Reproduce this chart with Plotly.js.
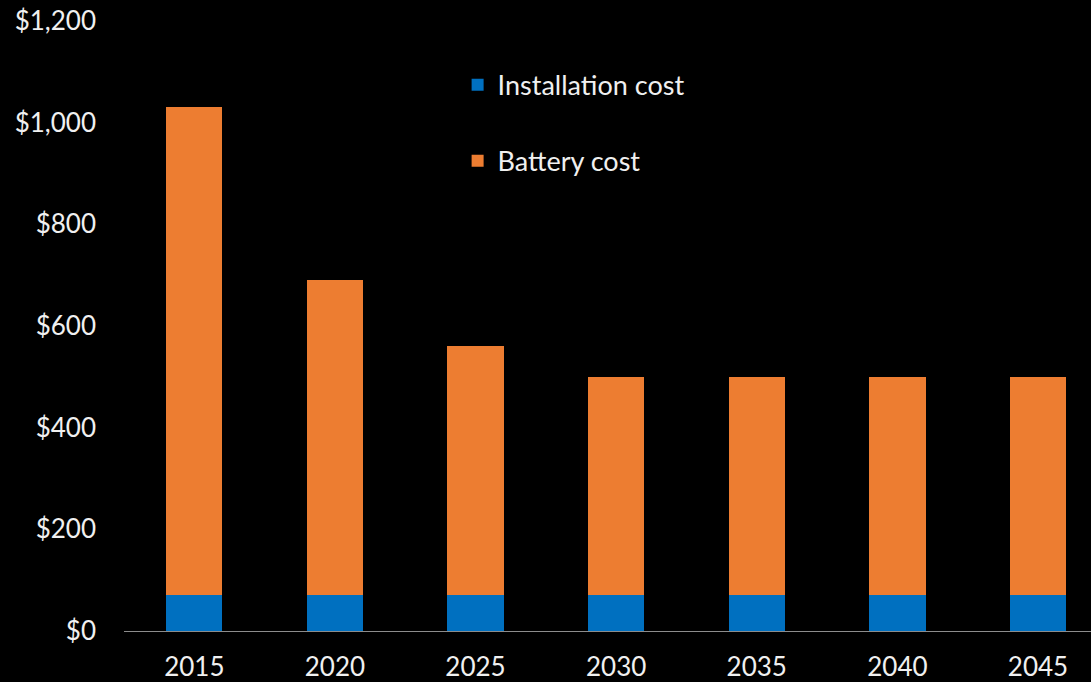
<!DOCTYPE html>
<html>
<head>
<meta charset="utf-8">
<script src="https://cdn.plot.ly/plotly-3.0.1.min.js"></script>
<style>html,body{margin:0;padding:0;background:#000;}#chart{width:1091px;height:682px;}</style>
</head>
<body>
<div id="chart"></div>
<script>
const years = ['2015','2020','2025','2030','2035','2040','2045'];
const installationCost = [70, 70, 70, 70, 70, 70, 70];
const batteryCost = [960, 620, 490, 430, 430, 430, 430];
const yTickValues = [0, 200, 400, 600, 800, 1000, 1200];
const yTickLabels = ['$0','$200','$400','$600','$800','$1,000','$1,200'];

const fontFamily = 'Lato, "Open Sans", sans-serif';
const data = [
  {type:'bar', name:'Installation cost', x: years, y: installationCost,
   marker:{color:'#0070C0'}, legendgroup:'a'},
  {type:'bar', name:'Battery cost', x: years, y: batteryCost,
   marker:{color:'#ED7D31'}, legendgroup:'b'}
];
const layout = {
  width:1091, height:682,
  paper_bgcolor:'#000', plot_bgcolor:'#000',
  margin:{l:124, r:0, t:21, b:51},
  barmode:'stack', bargap:0.6,
  font:{family:fontFamily, color:'#f0f0f0', size:26},
  xaxis:{type:'category', range:[-0.5, 6.377], showgrid:false, zeroline:false,
         showline:true, linecolor:'#8c8c8c', linewidth:1, ticks:'',
         tickfont:{size:26, color:'#f0f0f0'}, ticklabelstandoff:13, fixedrange:true},
  yaxis:{range:[0,1200], tickvals:yTickValues, ticktext:yTickLabels,
         showgrid:false, zeroline:false, showline:false, ticks:'',
         tickfont:{size:26, color:'#f0f0f0'}, ticklabelstandoff:27, fixedrange:true},
  showlegend:true,
  legend:{x:0.345, y:0.935, xanchor:'left', yanchor:'top', traceorder:'grouped',
          tracegroupgap:38, bgcolor:'rgba(0,0,0,0)',
          font:{size:27, color:'#f0f0f0', family:fontFamily}}
};
Plotly.newPlot('chart', data, layout, {displayModeBar:false, staticPlot:true});
</script>
</body>
</html>
